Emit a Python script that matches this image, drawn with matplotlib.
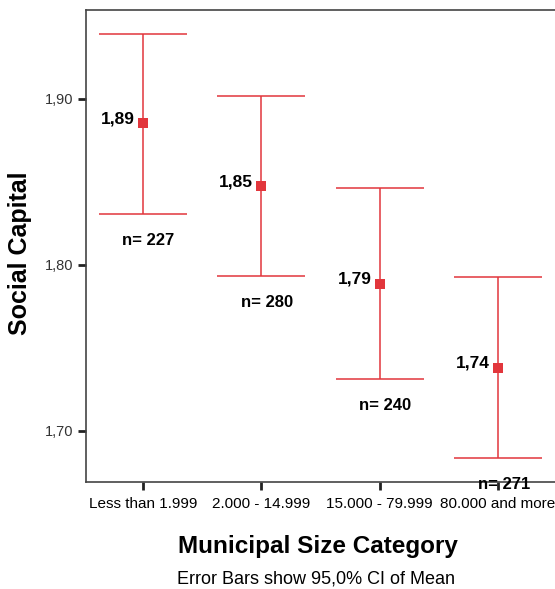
import matplotlib
matplotlib.use("Agg")
import matplotlib.pyplot as plt

plt.rcParams["font.family"] = ["Liberation Sans", "DejaVu Sans"]

categories = ["Less than 1.999", "2.000 - 14.999", "15.000 - 79.999", "80.000 and more"]
means = [1.8855, 1.8476, 1.7886, 1.7380]
ci_low = [1.8307, 1.7934, 1.7313, 1.6837]
ci_high = [1.9390, 1.9018, 1.8464, 1.7928]
mean_labels = ["1,89", "1,85", "1,79", "1,74"]
n_labels = ["n= 227", "n= 280", "n= 240", "n= 271"]
yticks = [1.70, 1.80, 1.90]
ytick_labels = ["1,70", "1,80", "1,90"]

fig = plt.figure(figsize=(5.55, 5.89), dpi=100)
ax = fig.add_axes([86/555, 107/589, 1 - 86/555 + 0.002, (482-10)/589])

red = "#e2363c"
x = list(range(len(categories)))
lower = [m - l for m, l in zip(means, ci_low)]
upper = [h - m for m, h in zip(means, ci_high)]
ax.errorbar(x, means, yerr=[lower, upper], fmt="none", ecolor=red, elinewidth=1.1,
            capsize=31.5, capthick=1.1)
ax.plot(x, means, "s", color=red, markersize=7, markeredgewidth=0)

for xi, m, lbl, lo, nl in zip(x, means, mean_labels, ci_low, n_labels):
    ax.annotate(lbl, (xi, m), xytext=(-6, 3), textcoords="offset points",
                ha="right", va="center", fontsize=12.5, fontweight="bold")
    ax.annotate(nl, (xi, lo), xytext=(4, -19), textcoords="offset points",
                ha="center", va="center", fontsize=12, fontweight="bold")

ax.set_xlim(-0.48, 3.49)
ax.set_ylim(1.669, 1.9536)
ax.set_yticks(yticks)
ax.set_yticklabels(ytick_labels, fontsize=10.5, color="#333333")
ax.set_xticks(x)
ax.set_xticklabels(categories, fontsize=11)
ax.tick_params(axis="both", direction="out", length=6, width=2, color="#222222")
ax.tick_params(axis="x", pad=4.5)
ax.tick_params(axis="y", pad=3)

for s in ax.spines.values():
    s.set_color("#444444")
    s.set_linewidth(1.2)

fig.text(20/555, 1 - 253/589, "Social Capital", rotation=90, ha="center", va="center",
         fontsize=18, fontweight="bold")
fig.text(318/555, 1 - 547/589, "Municipal Size Category", ha="center", va="center",
         fontsize=17.5, fontweight="bold")
fig.text(316/555, 1 - 579/589, "Error Bars show 95,0% CI of Mean", ha="center", va="center",
         fontsize=13)

fig.savefig("out.png", dpi=100)
